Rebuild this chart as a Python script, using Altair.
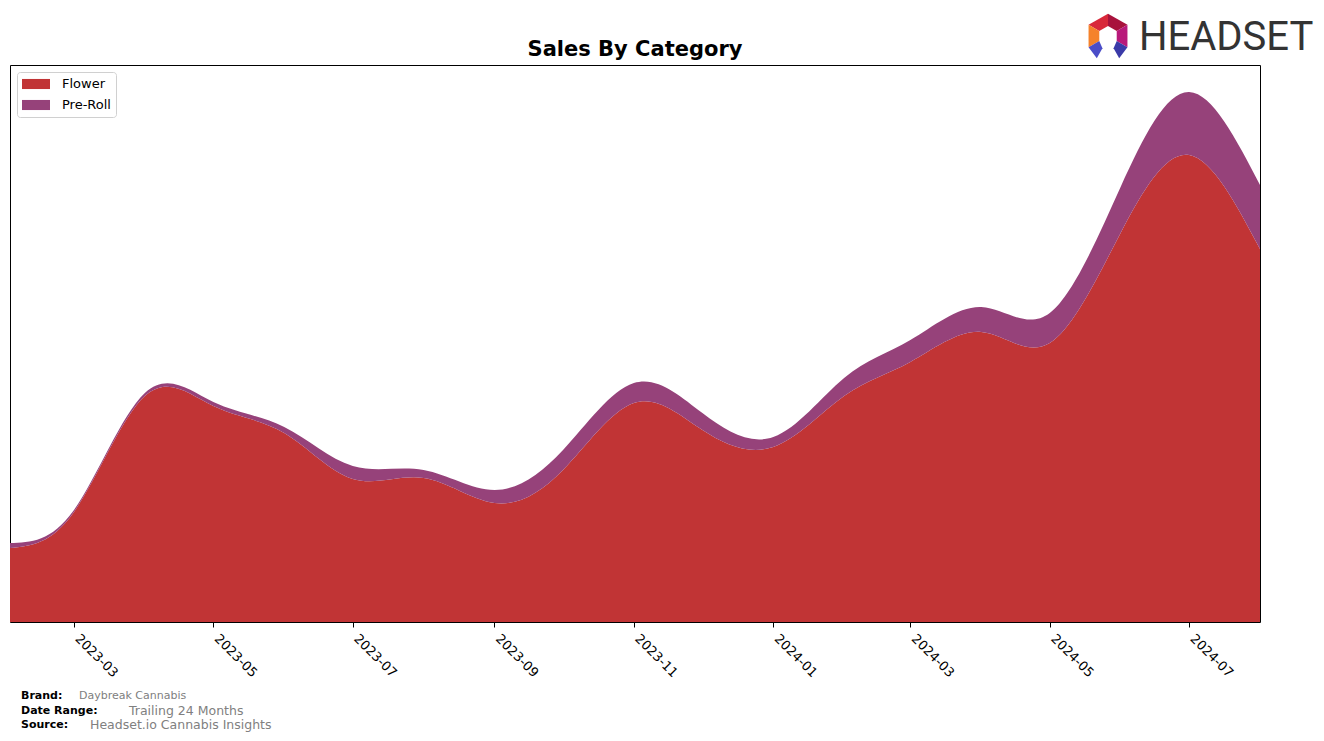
import altair as alt
import pandas as pd

months = ["2023-02-01", "2023-03-01", "2023-04-01", "2023-05-01", "2023-06-01",
          "2023-07-01", "2023-08-01", "2023-09-01", "2023-10-01", "2023-11-01",
          "2023-12-01", "2024-01-01", "2024-02-01", "2024-03-01", "2024-04-01",
          "2024-05-01", "2024-06-01", "2024-07-01", "2024-08-01"]
flower = [74, 110, 226, 216, 189, 143, 144, 119, 152, 219, 192, 175, 226, 260, 290, 279, 389, 467, 373]
preroll = [5, 2, 3, 4, 6, 13, 8, 13, 20, 20, 17, 10, 18, 22, 25, 30, 46, 63, 64]
categories = ["Flower", "Pre-Roll"]
colors = ["#C13435", "#96427A"]
tick_months = ["2023-03-01", "2023-05-01", "2023-07-01", "2023-09-01", "2023-11-01",
               "2024-01-01", "2024-03-01", "2024-05-01", "2024-07-01"]

rows = []
for m, f, p in zip(months, flower, preroll):
    rows.append({"month": m, "category": "Flower", "sales": f, "ord": 0})
    rows.append({"month": m, "category": "Pre-Roll", "sales": p, "ord": 1})
df = pd.DataFrame(rows)

W, H = 1250, 557
FONT = "DejaVu Sans"

# legend swatch: 28x10 rectangle starting at the entry's left edge
rect_path = "M-1,-0.72L3,-0.72L3,0.72L-1,0.72Z"

area = alt.Chart(df).mark_area(interpolate="natural").encode(
    x=alt.X("month:T",
            scale=alt.Scale(domain=["2023-02-01", "2024-08-01"], nice=False),
            axis=alt.Axis(values=tick_months, format="%Y-%m", labelAngle=45,
                          labelAlign="left", labelBaseline="top", labelFontSize=13,
                          labelColor="black", tickColor="black", tickSize=5,
                          domain=False, grid=False, title=None, labelPadding=5,
                          labelOffset=7, labelFont=FONT)),
    y=alt.Y("sales:Q", stack="zero", scale=alt.Scale(domain=[0, H], nice=False),
            axis=None),
    color=alt.Color("category:N",
                    scale=alt.Scale(domain=categories, range=colors),
                    legend=alt.Legend(title=None, orient="none", legendX=7, legendY=7,
                                      symbolType=rect_path, symbolSize=196,
                                      symbolStrokeWidth=0, symbolOpacity=1,
                                      labelFontSize=13, labelFont=FONT, labelColor="black",
                                      padding=5, rowPadding=7,
                                      strokeColor="#d0d0d0", fillColor="white",
                                      cornerRadius=3, labelOffset=26)),
    order=alt.Order("ord:Q"),
)

one = pd.DataFrame({"a": [0]})

title = alt.Chart(one).mark_text(text="Sales By Category", fontSize=21, fontWeight="bold",
                                 font=FONT, align="center", baseline="middle",
                                 color="black").encode(
    x=alt.value(W / 2), y=alt.value(-15))

logo_text = alt.Chart(one).mark_text(text="HEADSET", fontSize=40, font="Roboto",
                                     align="left", baseline="middle", color="#333333").encode(
    x=alt.value(1129), y=alt.value(-27))

logo_parts = [
    ("M-0.87,-0.5L0,-1L0,-0.45L-0.39,-0.22Z", "#D8283A"),
    ("M0,-1L0.87,-0.5L0.39,-0.22L0,-0.45Z", "#A8123C"),
    ("M0.87,-0.5L0.87,0.5L0.39,0.22L0.39,-0.22Z", "#B8197A"),
    ("M-0.87,-0.5L-0.39,-0.22L-0.39,0.22L-0.87,0.5Z", "#F5822A"),
    ("M-0.87,0.5L-0.39,0.22L-0.25,0.55L-0.5,1Z", "#4B4DC8"),
    ("M0.87,0.5L0.39,0.22L0.25,0.55L0.5,1Z", "#3A3AA8"),
]
logo_layers = []
for path, col in logo_parts:
    logo_layers.append(
        alt.Chart(one).mark_point(shape=path, filled=True, fill=col, size=2000,
                                  opacity=1, strokeWidth=0).encode(
            x=alt.value(1098), y=alt.value(-29)))

footer = [
    ("Brand:", 11, 631, True, 11),
    ("Daybreak Cannabis", 69, 631, False, 11),
    ("Date Range:", 11, 646, True, 11),
    ("Trailing 24 Months", 119, 646, False, 12.5),
    ("Source:", 11, 660, True, 11),
    ("Headset.io Cannabis Insights", 80, 660, False, 12.5),
]
footer_layers = []
for txt, fx, fy, bold, fs in footer:
    footer_layers.append(
        alt.Chart(one).mark_text(text=txt, fontSize=fs, font=FONT,
                                 fontWeight="bold" if bold else "normal",
                                 color="black" if bold else "#808080",
                                 align="left", baseline="middle").encode(
            x=alt.value(fx), y=alt.value(fy)))

chart = alt.layer(area, title, logo_text, *logo_layers, *footer_layers).properties(
    width=W, height=H,
    autosize=alt.AutoSizeParams(type="none"),
    padding={"left": 10, "top": 65, "right": 64, "bottom": 119},
    background="white",
).configure_view(stroke="black", strokeWidth=1)

chart.save("out.html", embed_options={"renderer": "svg", "actions": False})
